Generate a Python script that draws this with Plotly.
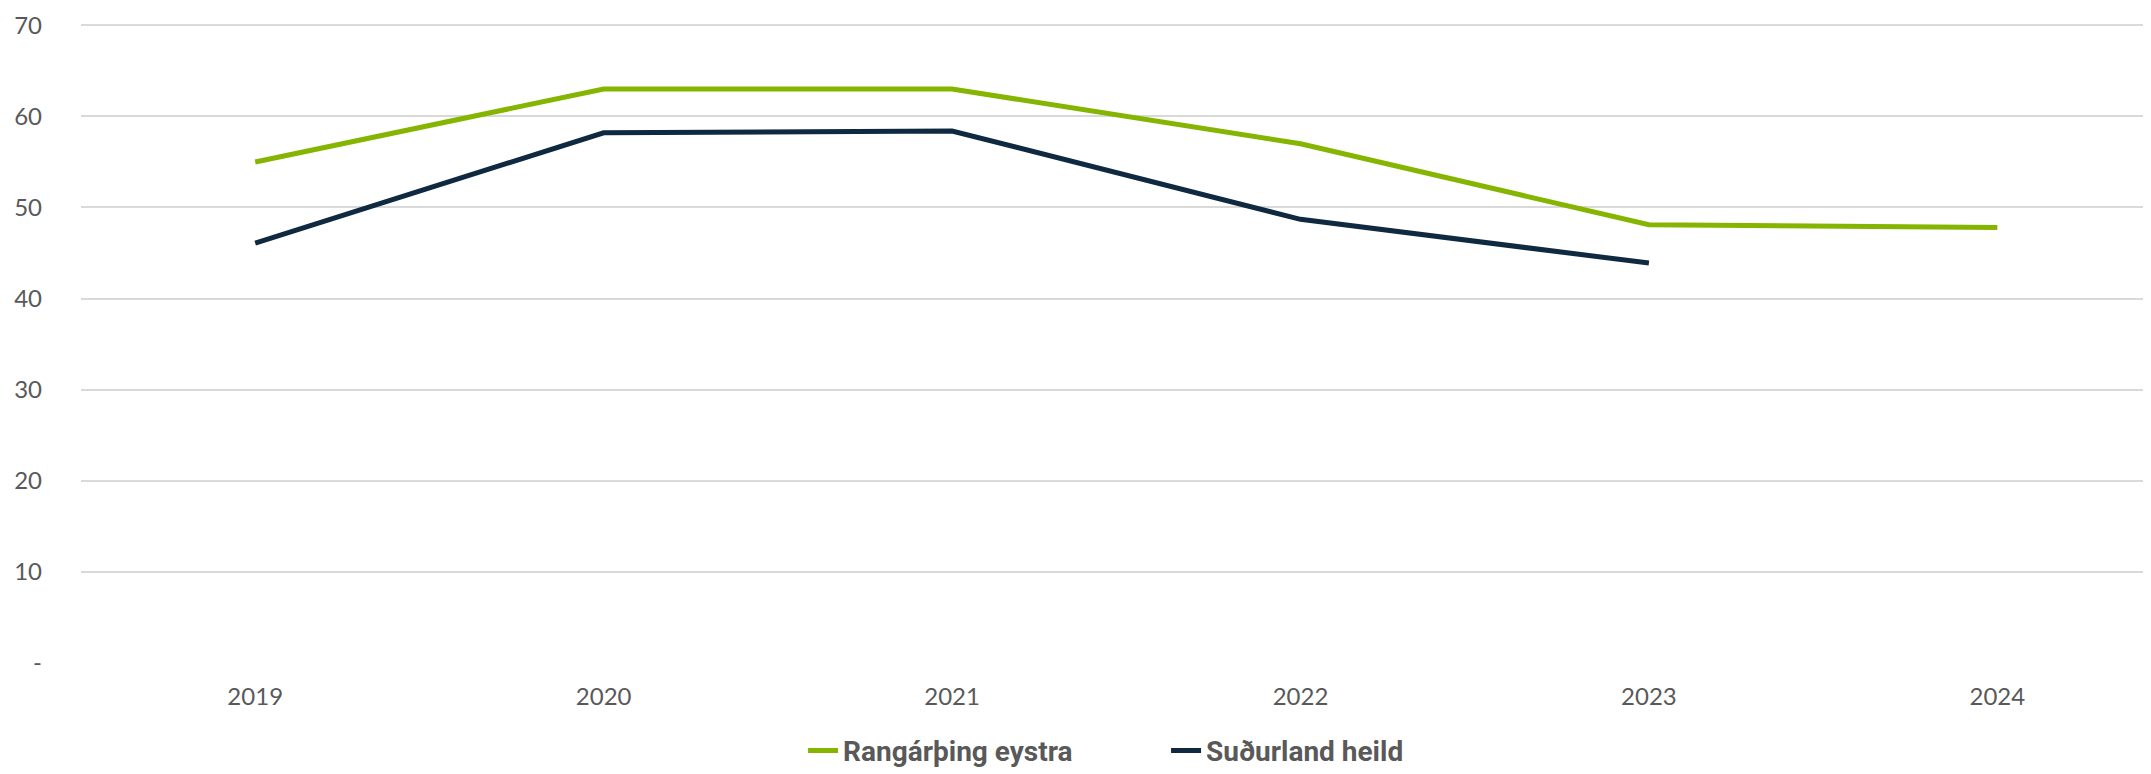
import plotly.graph_objects as go

# %% data
years = ["2019", "2020", "2021", "2022", "2023", "2024"]
rangarthing = [55.0, 63.0, 63.0, 57.0, 48.1, 47.8]
sudurland = [46.1, 58.2, 58.4, 48.7, 43.9]

y_ticks = [0, 10, 20, 30, 40, 50, 60, 70]
y_ticktext = ["-", "10", "20", "30", "40", "50", "60", "70"]

GREEN = "#85b500"
NAVY = "#0f2940"
GREY_TXT = "#595959"

# %% figure
# the page puts the plot 8px in from the top-left, so margins are set with that in mind
fig = go.Figure(
    data=[
        go.Scatter(x=years, y=rangarthing, name="Rangárþing eystra",
                   mode="lines", line=dict(color=GREEN, width=5)),
        go.Scatter(x=years[:len(sudurland)], y=sudurland, name="Suðurland heild",
                   mode="lines", line=dict(color=NAVY, width=5)),
    ]
).update_layout(
    width=2143,
    height=766,
    margin=dict(l=73, r=0, t=15, b=111, autoexpand=False),
    plot_bgcolor="white",
    paper_bgcolor="white",
    font=dict(family="Lato, Noto Sans, sans-serif", size=24, color=GREY_TXT),
    xaxis=dict(
        type="category",
        range=[-0.5, 5.441],
        showgrid=False,
        showline=False,
        zeroline=False,
        ticks="",
        ticklabelstandoff=17,
        tickfont=dict(size=24, color=GREY_TXT),
    ),
    yaxis=dict(
        range=[0, 70.25],
        tickvals=y_ticks,
        ticktext=y_ticktext,
        showgrid=True,
        gridcolor="#d9d9d9",
        gridwidth=1.5,
        zeroline=False,
        showline=False,
        ticks="",
        ticklabelstandoff=38,
        tickfont=dict(size=24, color=GREY_TXT),
    ),
    showlegend=True,
    legend=dict(
        orientation="h",
        xref="container",
        yref="container",
        x=0.371,
        xanchor="left",
        y=0.063,
        yanchor="top",
        font=dict(family="Liberation Sans Narrow, Roboto, sans-serif",
                  size=28, color=GREY_TXT, weight="bold"),
        entrywidth=318,
        entrywidthmode="pixels",
    ),
)

fig.write_html("out.html")
